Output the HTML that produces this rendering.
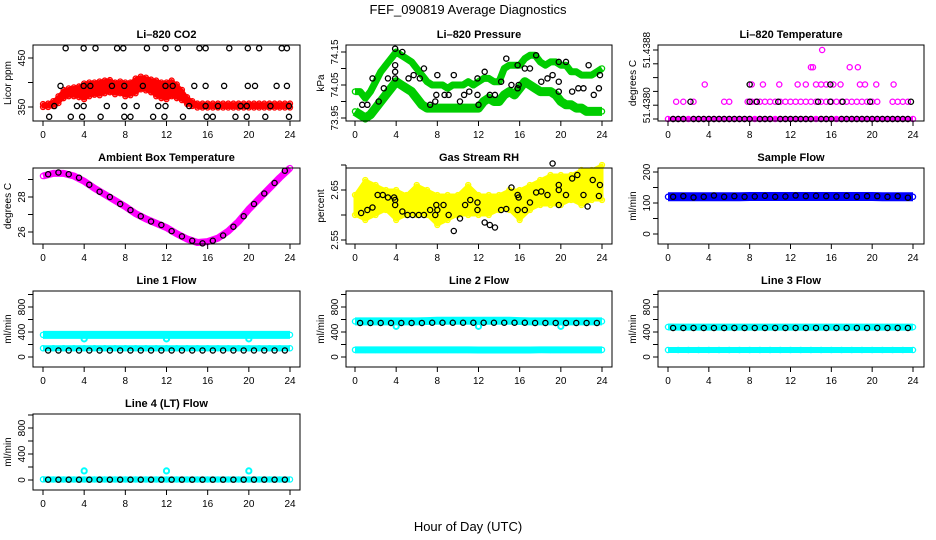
<!DOCTYPE html>
<html><head><meta charset="utf-8">
<style>
html,body{margin:0;padding:0;background:#fff;}
svg{display:block;font-family:"Liberation Sans",Arial,sans-serif;}
.tt{font-size:11px;font-weight:bold;text-anchor:middle;}
.tk{font-size:10px;text-anchor:middle;}
</style></head>
<body>
<svg id="chart" width="936" height="540" viewBox="0 0 936 540">
<text x="468" y="14" font-size="13" text-anchor="middle">FEF_090819  Average Diagnostics</text>
<text x="468" y="531" font-size="13" text-anchor="middle">Hour of Day (UTC)</text>
</svg>
<script>
// ---------- data ----------
const halfHours = [0,0.5,1,1.5,2,2.5,3,3.5,4,4.5,5,5.5,6,6.5,7,7.5,8,8.5,9,9.5,10,10.5,11,11.5,12,12.5,13,13.5,14,14.5,15,15.5,16,16.5,17,17.5,18,18.5,19,19.5,20,20.5,21,21.5,22,22.5,23,23.5,24];
const hours = [0,1,2,3,4,5,6,7,8,9,10,11,12,13,14,15,16,17,18,19,20,21,22,23,24];
const avgHours = [0.5,1.5,2.5,3.5,4.5,5.5,6.5,7.5,8.5,9.5,10.5,11.5,12.5,13.5,14.5,15.5,16.5,17.5,18.5,19.5,20.5,21.5,22.5,23.5];

// CO2
const co2Upper = [356,357,362,372,385,388,390,392,398,400,400,402,404,405,400,402,400,400,408,412,410,406,404,400,400,404,396,385,370,362,357,357,357,357,357,357,357,357,357,357,357,357,357,357,357,357,357,357,357];
const co2Lower = [350,350,352,358,368,372,372,370,366,372,375,374,378,380,376,378,372,374,378,386,384,380,372,368,366,372,368,364,356,352,349,349,349,349,349,349,349,349,349,349,349,349,349,349,349,349,349,349,349];
const co2AvgHours = [2.2,3.95,5.1,7.2,7.8,10.1,11.9,13.1,15.2,15.8,18.1,19.9,21.0,23.2,23.7, 1.7,3.95,4.6,6.7,7.9,9.7,11.9,12.6,14.7,15.8,17.6,19.9,20.6,22.7,23.7, 1.1,3.3,3.95,6.2,7.9,9.1,11.2,11.9,14.2,15.8,17.0,19.2,19.8,22.1,23.9, 0.6,2.7,3.8,5.6,7.9,8.5,10.7,11.8,13.6,15.9,16.5,18.7,19.8,21.6,23.9];
const co2AvgValues = [470,470,470,470,470,470,470,470,470,470,470,470,470,470,470, 393,393,393,393,393,393,393,393,393,393,393,393,393,393,393, 352,352,352,352,352,352,352,352,352,352,352,352,352,352,352, 330,330,330,330,330,330,330,330,330,330,330,330,330,330,330];

// Pressure
const presUpper = [74.03,74.03,74.01,74.03,74.06,74.09,74.11,74.13,74.15,74.14,74.13,74.12,74.10,74.08,74.06,74.05,74.05,74.05,74.04,74.05,74.05,74.05,74.06,74.05,74.06,74.07,74.07,74.06,74.06,74.10,74.11,74.11,74.11,74.13,74.14,74.14,74.12,74.11,74.12,74.12,74.11,74.11,74.09,74.09,74.08,74.08,74.08,74.09,74.10];
const presLower = [73.97,73.96,73.95,73.96,73.98,74.00,74.02,74.04,74.06,74.05,74.04,74.03,74.01,73.99,73.98,73.98,73.98,73.98,73.98,73.98,73.98,73.98,73.98,73.98,73.98,74.00,74.01,74.00,74.00,74.02,74.03,74.02,74.04,74.06,74.05,74.04,74.03,74.03,74.03,74.02,74.00,73.99,73.99,73.98,73.98,73.97,73.97,73.97,73.97];
const presAvgHours = [3.9,4.6,3.9,3.9,3.9,3.2,2.8,1.7,2.3,0.7,1.2,5.2,5.7,6.3,6.7,7.3,7.9,7.8,8.0,8.7,9.1,9.6,10.2,10.6,11.1,11.9,11.9,12.0,12.6,13.1,13.6,14.2,14.7,15.2,15.8,15.8,15.9,16.5,17.0,17.6,18.1,18.7,19.2,19.8,19.8,19.8,20.5,21.1,21.7,22.2,22.7,23.2,23.7,23.8];
const presAvgValues = [74.16,74.15,74.11,74.09,74.07,74.07,74.04,74.07,74.00,73.99,73.99,74.07,74.08,74.07,74.10,73.99,74.02,74.00,74.08,74.02,74.02,74.08,74.00,74.02,74.03,74.07,74.02,73.99,74.09,74.02,74.02,74.06,74.13,74.05,74.04,74.11,74.05,74.10,74.10,74.14,74.06,74.07,74.08,74.12,74.06,74.03,74.12,74.03,74.04,74.04,74.11,74.02,74.04,74.08];

// Li-820 temperature
const tempMagHours = [0.8,1.5,2.5,5.5,6,7.8,8.2,8.6,9,9.5,10,10.5,11,11.5,12,12.5,13,13.5,14,14.5,15,15.5,16,16.5,17,17.5,18,18.5,19,19.5,20,20.5,22,22.5,23,23.5, 3.6,8.2,9.3,10.9,12.7,13.5,14.5,15,15.5,16.2,16.9,18.8,19.3,20.4,22.1, 14,14.2,17.8,18.6, 15.1];
const tempMagValues = [51.43805,51.43805,51.43805,51.43805,51.43805,51.43805,51.43805,51.43805,51.43805,51.43805,51.43805,51.43805,51.43805,51.43805,51.43805,51.43805,51.43805,51.43805,51.43805,51.43805,51.43805,51.43805,51.43805,51.43805,51.43805,51.43805,51.43805,51.43805,51.43805,51.43805,51.43805,51.43805,51.43805,51.43805,51.43805,51.43805, 51.4383,51.4383,51.4383,51.4383,51.4383,51.4383,51.4383,51.4383,51.4383,51.4383,51.4383,51.4383,51.4383,51.4383,51.4383, 51.43855,51.43855,51.43855,51.43855, 51.4388];
const tempBaseline = [51.4378,51.4378,51.4378,51.4378,51.4378,51.4378,51.4378,51.4378,51.4378,51.4378,51.4378,51.4378,51.4378,51.4378,51.4378,51.4378,51.4378,51.4378,51.4378,51.4378,51.4378,51.4378,51.4378,51.4378,51.4378,51.4378,51.4378,51.4378,51.4378,51.4378,51.4378,51.4378,51.4378,51.4378,51.4378,51.4378,51.4378,51.4378,51.4378,51.4378,51.4378,51.4378,51.4378,51.4378,51.4378,51.4378,51.4378,51.4378,51.4378];
const tempAvgHours = [0.5,1.0,1.5,2.5,3.0,3.5,4.0,4.5,5.0,5.5,6.0,6.5,7.0,7.5,8.0,9.0,9.5,10.0,11.0,11.5,12.0,12.5,13.0,13.5,14.0,15.0,15.5,16.0,17.0,17.5,18.0,18.5,19.0,19.5,20.0,20.5,21.0,21.5,22.0,22.5,23.0,23.5, 2.2,8.0,8.7,10.8,14.7,15.9,17.1,19.8,23.8, 8.0,15.9];
const tempAvgValues = [51.4378,51.4378,51.4378,51.4378,51.4378,51.4378,51.4378,51.4378,51.4378,51.4378,51.4378,51.4378,51.4378,51.4378,51.4378,51.4378,51.4378,51.4378,51.4378,51.4378,51.4378,51.4378,51.4378,51.4378,51.4378,51.4378,51.4378,51.4378,51.4378,51.4378,51.4378,51.4378,51.4378,51.4378,51.4378,51.4378,51.4378,51.4378,51.4378,51.4378,51.4378,51.4378, 51.43805,51.43805,51.43805,51.43805,51.43805,51.43805,51.43805,51.43805,51.43805, 51.4383,51.4383];

// Ambient box temperature
const ambientHourly = [29.2,29.35,29.35,29.2,28.9,28.5,28.15,27.8,27.45,27.05,26.75,26.5,26.25,25.9,25.6,25.4,25.45,25.65,26.05,26.6,27.3,27.9,28.5,29.1,29.65];
const ambientAvg = [29.3,29.4,29.3,29.1,28.7,28.3,28.0,27.6,27.25,26.9,26.6,26.4,26.05,25.75,25.5,25.35,25.5,25.8,26.3,26.9,27.6,28.2,28.8,29.5];

// Gas stream RH
const rhUpper = [2.64,2.67,2.66,2.65,2.65,2.64,2.66,2.65,2.64,2.64,2.64,2.66,2.64,2.64,2.64,2.65,2.65,2.66,2.67,2.68,2.68,2.68,2.69,2.69,2.70];
const rhLower = [2.60,2.59,2.60,2.61,2.59,2.60,2.60,2.60,2.58,2.59,2.60,2.60,2.60,2.60,2.61,2.61,2.59,2.61,2.62,2.62,2.62,2.63,2.62,2.63,2.63];
const rhAvgHours = [0.6,1.2,1.7,2.2,2.7,3.2,3.8,3.9,3.9,4.6,5.1,5.6,6.2,6.7,7.3,7.8,7.9,8.0,8.6,9.1,9.6,10.2,10.7,11.2,11.9,11.9,12.6,13.1,13.6,14.2,14.7,15.2,15.8,15.8,15.9,16.5,17.0,17.6,18.1,18.7,19.2,19.8,19.8,19.8,20.5,21.1,21.6,22.2,22.6,23.1,23.7,23.8];
const rhAvgValues = [2.604,2.61,2.615,2.64,2.64,2.635,2.635,2.63,2.62,2.607,2.6,2.6,2.6,2.6,2.61,2.60,2.62,2.61,2.62,2.60,2.568,2.593,2.62,2.63,2.625,2.61,2.585,2.58,2.575,2.61,2.612,2.655,2.64,2.61,2.635,2.61,2.625,2.645,2.647,2.64,2.703,2.66,2.65,2.62,2.64,2.673,2.68,2.64,2.617,2.67,2.638,2.66];

// Sample flow
const sampleHourly = [120,120,120,120,120,120,120,120,121,121,121,121,121,121,121,121,121,121,121,121,121,120,120,120,120];
const sampleAvg = [120,122,118,120,124,120,122,120,121,123,120,121,124,122,123,122,121,123,120,122,122,120,122,117];

// Line flows
const line1Upper = [355,355,355,355,355,355,355,355,355,355,355,355,355,355,355,355,355,355,355,355,355,355,355,355,355];
const line1Lower = [140,140,140,140,140,140,140,140,140,140,140,140,140,140,140,140,140,140,140,140,140,140,140,140,140];
const line1Avg = [105,105,105,105,105,105,105,105,105,105,105,105,105,105,105,105,105,105,105,105,105,105,105,105];
const line1DipHours = [4,12,20];
const line1DipValues = [290,290,290];
const line2Upper = [570,570,570,570,570,570,570,575,580,580,580,580,580,580,580,580,575,570,570,570,570,570,570,570,570];
const line2Lower = [115,115,115,115,115,115,115,115,115,115,115,115,112,112,112,112,112,112,115,115,115,115,115,115,115];
const line2Avg = [545,545,545,545,545,545,545,548,548,548,548,548,548,548,548,548,548,545,545,545,545,545,545,545];
const line2DipHours = [4,12,20];
const line2DipValues = [490,490,490];
const line3Upper = [480,478,478,478,478,478,478,478,478,478,478,478,478,478,478,478,478,478,478,478,478,478,478,478,478];
const line3Lower = [112,112,112,112,112,112,112,112,112,112,112,112,112,112,112,112,112,112,112,112,112,112,112,112,112];
const line3Avg = [465,465,465,465,465,465,465,465,465,465,465,465,465,465,465,465,465,465,465,465,465,465,465,465];
const line4Cyan = [10,8,8,8,8,8,8,8,8,8,8,8,8,8,8,8,8,8,8,8,8,8,8,8,8];
const line4Avg = [5,5,5,5,5,5,5,5,5,5,5,5,5,5,5,5,5,5,5,5,5,5,5,5];
const line4SpikeHours = [4,12,20];
const line4SpikeValues = [140,140,140];

// ---------- layout ----------
const NS = 'http://www.w3.org/2000/svg';
const svg = document.getElementById('chart');
const rowTop = [45,168,291,414], rowBot = [121,244,367,490];
const colL = [33,346,658], colR = [300,612,924], colX0 = [43,355,668], colX24 = [290,602,913];

function mk(tag, attrs, parent) {
  const e = document.createElementNS(NS, tag);
  for (const k in attrs) e.setAttribute(k, attrs[k]);
  (parent || svg).appendChild(e);
  return e;
}

function panel(name, title, ylab, col, row, v0, p0, v1, p1, ticks, labels) {
  const g = mk('g', {});
  
  
  const L = colL[col], R = colR[col], T = rowTop[row], B = rowBot[row];
  const xs = h => colX0[col] + (colX24[col] - colX0[col]) * h / 24;
  const ys = v => p0 + (p1 - p0) * (v - v0) / (v1 - v0);
  const t = mk('text', {x: (L + R) / 2, y: T - 7, class: 'tt'}, g);
  t.textContent = title;
  
  
  const yl = mk('text', {x: 0, y: 0, 'font-size': 10, 'text-anchor': 'middle', transform: `translate(${L - 22},${(T + B) / 2}) rotate(-90)`}, g);
  yl.textContent = ylab;
  
  
  const plot = mk('g', {}, g);
  
  
  const box = mk('rect', {x: L, y: T, width: R - L, height: B - T, fill: 'none', stroke: '#000', 'stroke-width': 1}, g);
  
  
  const xa = mk('g', {}, g);
  
  
  mk('line', {x1: xs(0), x2: xs(24), y1: B, y2: B, stroke: '#000'}, xa);
  for (let h = 0; h <= 24; h += 4) {
    mk('line', {x1: xs(h), x2: xs(h), y1: B, y2: B + 5, stroke: '#000'}, xa);
    const tl = mk('text', {x: xs(h), y: B + 17, class: 'tk'}, xa);
    tl.textContent = h;
    
    
  }
  const ya = mk('g', {}, g);
  
  
  mk('line', {x1: L, x2: L, y1: ys(ticks[0]), y2: ys(ticks[ticks.length - 1]), stroke: '#000'}, ya);
  ticks.forEach(v => mk('line', {x1: L - 5, x2: L, y1: ys(v), y2: ys(v), stroke: '#000'}, ya));
  labels.forEach(s => {
    const tl = mk('text', {x: 0, y: 0, class: 'tk', transform: `translate(${L - 8},${ys(parseFloat(s))}) rotate(-90)`}, ya);
    tl.textContent = s;
    
    
  });
  return {plot, xs, ys};
}

function pts(P, hs, vs, color, r, sw, nm) {
  for (let i = 0; i < vs.length; i++) {
    const c = mk('circle', {cx: P.xs(hs[i]), cy: P.ys(vs[i]), r: r, fill: 'none', stroke: color, 'stroke-width': sw}, P.plot);
    
    
  }
}
function band(P, hs, vs, color, w, nm) {
  const l = mk('polyline', {points: vs.map((v, i) => P.xs(hs[i]) + ',' + P.ys(v)).join(' '), fill: 'none', stroke: color, 'stroke-width': w, 'stroke-linejoin': 'round', 'stroke-linecap': 'butt'}, P.plot);
  
  
  pts(P, hs, vs, color, 2.6, 1.3, nm + '-point');
}
function area(P, hs, up, lo, color, nm) {
  const a = up.map((v, i) => P.xs(hs[i]) + ',' + P.ys(v));
  const b = lo.map((v, i) => P.xs(hs[i]) + ',' + P.ys(v)).reverse();
  const p = mk('polygon', {points: a.concat(b).join(' '), fill: color, stroke: color, 'stroke-width': 3, 'stroke-linejoin': 'round'}, P.plot);
  
  
  pts(P, hs, up, color, 2.5, 1.3, nm + '-point');
  pts(P, hs, lo, color, 2.5, 1.3, nm + '-point');
}
const BLK = '#000', R_ = 2.6, SW = 1.3;

let P = panel('co2', 'Li\u2013820 CO2', 'Licor ppm', 0, 0, 350, 107, 450, 58, [350,400,450], ['350','450']);
area(P, halfHours, co2Upper, co2Lower, '#ff0000', 'co2-raw-band');
pts(P, co2AvgHours, co2AvgValues, BLK, R_, SW, 'co2-average-point');

P = panel('pressure', 'Li\u2013820 Pressure', 'kPa', 1, 0, 73.95, 118, 74.15, 52, [73.95,74.00,74.05,74.10,74.15], ['73.95','74.05','74.15']);
band(P, halfHours, presUpper, '#00cd00', 7, 'pressure-upper-band');
band(P, halfHours, presLower, '#00cd00', 9, 'pressure-lower-band');
pts(P, presAvgHours, presAvgValues, BLK, R_, SW, 'pressure-average-point');

P = panel('temperature', 'Li\u2013820 Temperature', 'degrees C', 2, 0, 51.4378, 119, 51.4388, 50, [51.4378,51.4380,51.4382,51.4384,51.4386,51.4388], ['51.4380','51.4388']);
band(P, halfHours, tempBaseline, '#ff00ff', 4, 'temperature-baseline');
pts(P, tempMagHours, tempMagValues, '#ff00ff', R_, SW, 'temperature-raw-point');
pts(P, tempAvgHours, tempAvgValues, BLK, R_, SW, 'temperature-average-point');

P = panel('ambient', 'Ambient Box Temperature', 'degrees C', 0, 1, 26, 232, 28, 197, [26,27,28,29], ['26','28']);
band(P, hours, ambientHourly, '#ff00ff', 7, 'ambient-raw-band');
pts(P, avgHours, ambientAvg, BLK, R_, SW, 'ambient-average-point');

P = panel('rh', 'Gas Stream RH', 'percent', 1, 1, 2.55, 240, 2.65, 190, [2.55,2.60,2.65,2.70], ['2.55','2.65']);
area(P, hours, rhUpper, rhLower, '#ffff00', 'rh-raw-band');
pts(P, rhAvgHours, rhAvgValues, BLK, R_, SW, 'rh-average-point');

P = panel('sample-flow', 'Sample Flow', 'ml/min', 2, 1, 0, 234, 200, 172, [0,50,100,150,200], ['0','100','200']);
band(P, hours, sampleHourly, '#0000ff', 9, 'sample-flow-raw-band');
pts(P, avgHours, sampleAvg, BLK, R_, SW, 'sample-flow-average-point');

const flowTicks = [0,200,400,600,800,1000], flowLabels = ['0','400','800'];
P = panel('line1', 'Line 1 Flow', 'ml/min', 0, 2, 0, 357, 800, 307, flowTicks, flowLabels);
band(P, hours, line1Upper, '#00ffff', 8, 'line1-upper-band');
band(P, hours, line1Lower, '#00ffff', 6, 'line1-lower-band');
pts(P, line1DipHours, line1DipValues, '#00ffff', R_, 2, 'line1-dip-point');
pts(P, avgHours, line1Avg, BLK, R_, SW, 'line1-average-point');

P = panel('line2', 'Line 2 Flow', 'ml/min', 1, 2, 0, 357, 800, 307, flowTicks, flowLabels);
band(P, hours, line2Upper, '#00ffff', 8, 'line2-upper-band');
band(P, hours, line2Lower, '#00ffff', 7, 'line2-lower-band');
pts(P, line2DipHours, line2DipValues, '#00ffff', R_, 2, 'line2-dip-point');
pts(P, avgHours, line2Avg, BLK, R_, SW, 'line2-average-point');

P = panel('line3', 'Line 3 Flow', 'ml/min', 2, 2, 0, 357, 800, 307, flowTicks, flowLabels);
band(P, hours, line3Upper, '#00ffff', 7, 'line3-upper-band');
band(P, hours, line3Lower, '#00ffff', 6, 'line3-lower-band');
pts(P, avgHours, line3Avg, BLK, R_, SW, 'line3-average-point');

P = panel('line4', 'Line 4 (LT) Flow', 'ml/min', 0, 3, 0, 480, 800, 428, flowTicks, flowLabels);
band(P, hours, line4Cyan, '#00ffff', 6, 'line4-raw-band');
pts(P, line4SpikeHours, line4SpikeValues, '#00ffff', R_, 2, 'line4-spike-point');
pts(P, avgHours, line4Avg, BLK, R_, SW, 'line4-average-point');
</script>
</body></html>
